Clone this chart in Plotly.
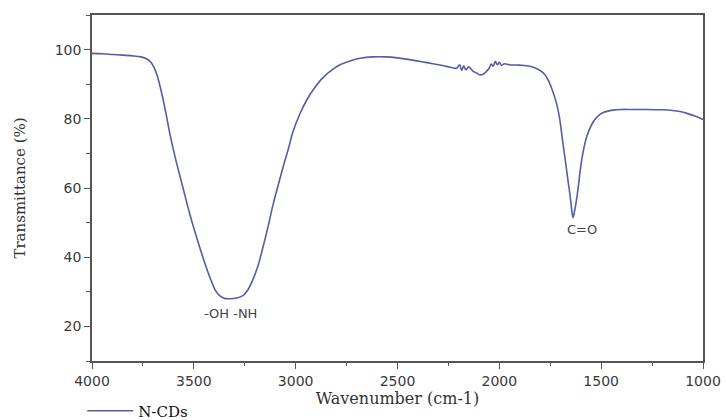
import plotly.graph_objects as go

wavenumber = [4000, 3950, 3900, 3850, 3800, 3760, 3730, 3710, 3695, 3680, 3665, 3640, 3617, 3590,
              3553, 3520, 3485, 3450, 3420, 3395, 3372, 3350, 3323, 3290, 3259, 3235, 3210, 3185,
              3160, 3135, 3111, 3085, 3062, 3035, 3013, 2980, 2945, 2905, 2866, 2820, 2782, 2730,
              2684, 2620, 2560, 2500, 2440, 2380, 2326, 2280, 2240, 2210, 2195, 2185, 2175, 2165,
              2150, 2130, 2110, 2095, 2080, 2065, 2050, 2040, 2030, 2020, 2010, 2000, 1990, 1975,
              1950, 1900, 1850, 1810, 1780, 1760, 1740, 1720, 1705, 1690, 1675, 1660, 1650, 1642,
              1638, 1630, 1620, 1610, 1604, 1590, 1570, 1545, 1521, 1490, 1442, 1400, 1350, 1275,
              1200, 1150, 1113, 1075, 1040, 1000]
transmittance = [98.9, 98.8, 98.6, 98.4, 98.2, 97.9, 97.3, 96.3, 94.8, 92.5, 89.2, 82.5, 75.5, 68.5,
                 60.0, 52.5, 45.5, 39.0, 34.0, 30.5, 28.8, 28.1, 28.0, 28.2, 28.9, 30.5, 33.5, 37.5,
                 43.0, 49.0, 55.2, 61.0, 66.0, 71.5, 76.3, 81.3, 85.5, 89.1, 91.9, 94.2, 95.6, 96.8,
                 97.5, 97.9, 97.9, 97.6, 97.1, 96.5, 95.9, 95.4, 94.9, 94.6, 95.6, 94.0, 95.3, 94.2,
                 95.0, 93.8, 93.2, 92.7, 92.9, 93.6, 94.6, 95.8, 95.2, 96.6, 95.6, 96.3, 95.5, 95.9,
                 95.6, 95.5, 95.2, 94.3, 93.0, 91.2, 88.3, 84.6, 80.5, 74.0, 67.5, 61.0, 56.5, 52.5,
                 51.4, 53.5, 57.0, 61.5, 64.5, 70.0, 75.0, 78.5, 80.5, 81.8, 82.5, 82.7, 82.7, 82.7,
                 82.6, 82.4, 82.1, 81.5, 80.8, 79.8]

series_name = "N-CDs"
x_title = "Wavenumber (cm-1)"
y_title = "Transmittance (%)"
band_labels = ["-OH -NH", "C=O"]
band_x = [3318, 1594]
band_y = [23.7, 48]

fig = go.Figure()
fig.add_trace(go.Scatter(
    x=wavenumber, y=transmittance, mode="lines", name=series_name,
    line=dict(color="#585ca6", width=1.6, shape="spline", smoothing=0.9),
))

for t, bx, by in zip(band_labels, band_x, band_y):
    fig.add_annotation(x=bx, y=by, text=t, showarrow=False,
                       font=dict(family="DejaVu Sans", size=13, color="#444444"))

axis_common = dict(
    showline=True, linecolor="#555555", linewidth=1.5, mirror=True,
    ticks="outside", ticklen=6, tickwidth=1.3, tickcolor="#555555",
    showgrid=False, zeroline=False, automargin=False,
    tickfont=dict(family="DejaVu Sans", size=14, color="#3a3a3a"),
)

fig.update_xaxes(
    range=[4000, 1000], tick0=1000, dtick=500,
    minor=dict(ticks="outside", ticklen=3, tickwidth=1.2, tickcolor="#555555", dtick=250),
    title=dict(text=x_title, font=dict(family="DejaVu Serif", size=16, color="#333333"), standoff=4),
    **axis_common,
)
fig.update_yaxes(
    range=[10, 110], tick0=0, dtick=20,
    minor=dict(ticks="outside", ticklen=4, tickwidth=1.2, tickcolor="#555555", dtick=10),
    title=dict(text=y_title, font=dict(family="DejaVu Serif", size=15, color="#333333"), standoff=25),
    **axis_common,
)

fig.update_layout(
    width=726, height=420,
    margin=dict(l=92, r=23, t=15, b=59, autoexpand=False),
    paper_bgcolor="white", plot_bgcolor="white",
    showlegend=True,
    legend=dict(x=-0.016, y=-0.1445, xanchor="left", yanchor="middle",
                font=dict(family="DejaVu Serif", size=15, color="#111111"),
                bgcolor="rgba(0,0,0,0)", itemwidth=46),
)

fig.write_html("out.html", config={"displayModeBar": False},
               post_script="document.body.style.margin='0';")
